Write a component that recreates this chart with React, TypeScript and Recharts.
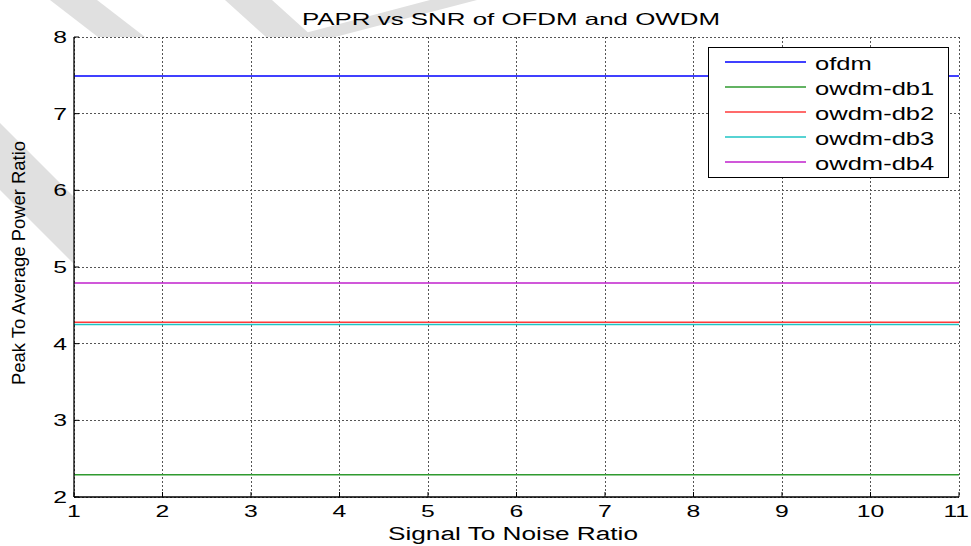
import React from 'react';
import { LineChart, Line, XAxis, YAxis, CartesianGrid, Legend } from 'recharts';

// ---- data ----
const snr = [1, 2, 3, 4, 5, 6, 7, 8, 9, 10, 11];
const ofdm = [7.49, 7.49, 7.49, 7.49, 7.49, 7.49, 7.49, 7.49, 7.49, 7.49, 7.49];
const owdmDb1 = [2.29, 2.29, 2.29, 2.29, 2.29, 2.29, 2.29, 2.29, 2.29, 2.29, 2.29];
const owdmDb2 = [4.28, 4.28, 4.28, 4.28, 4.28, 4.28, 4.28, 4.28, 4.28, 4.28, 4.28];
const owdmDb3 = [4.25, 4.25, 4.25, 4.25, 4.25, 4.25, 4.25, 4.25, 4.25, 4.25, 4.25];
const owdmDb4 = [4.79, 4.79, 4.79, 4.79, 4.79, 4.79, 4.79, 4.79, 4.79, 4.79, 4.79];
const seriesNames = ['ofdm', 'owdm-db1', 'owdm-db2', 'owdm-db3', 'owdm-db4'];
const xTicks = [1, 2, 3, 4, 5, 6, 7, 8, 9, 10, 11];
const yTicks = [2, 3, 4, 5, 6, 7, 8];
const titleText = 'PAPR vs SNR of OFDM and OWDM';
const xLabelText = 'Signal To Noise Ratio';
const yLabelText = 'Peak To Average Power Ratio';

// ---- styles ----
const seriesColors = ['#0000ff', '#2f9a2f', '#ff3a3a', '#1fc4c4', '#c020cc'];
const FONT = "'Liberation Sans', Arial, sans-serif";
const SX = 1.5;
const TICK_FS = 16.5;

const seriesValues = [ofdm, owdmDb1, owdmDb2, owdmDb3, owdmDb4];
const data = snr.map((s, i) => {
  const row: any = { snr: s };
  seriesNames.forEach((n, k) => {
    row[n] = seriesValues[k][i];
  });
  return row;
});

const XTick = (props: any) => {
  const { x, y, payload } = props;
  const w = String(payload.value).length * 0.556 * TICK_FS * SX;
  const cx = Math.min(x, 970 - w / 2);
  return (
    <text
      transform={`translate(${cx},${y + 12}) scale(${SX},1)`}
      textAnchor="middle"
      fontFamily={FONT}
      fontSize={TICK_FS}
      fill="#000"
    >
      {payload.value}
    </text>
  );
};

const YTick = (props: any) => {
  const { x, y, payload } = props;
  return (
    <text
      transform={`translate(${x},${y + 6}) scale(${SX},1)`}
      textAnchor="end"
      fontFamily={FONT}
      fontSize={TICK_FS}
      fill="#000"
    >
      {payload.value}
    </text>
  );
};

const LegendBox = (props: any) => {
  const payload = props.payload || [];
  return (
    <svg width={241} height={131} style={{ display: 'block' }}>
      <rect x={0.5} y={0.5} width={240} height={130} fill="#fff" stroke="#000" strokeWidth={1} />
      {payload.map((p: any, i: number) => {
        const cy = 15 + i * 25;
        return (
          <g key={p.value}>
            <line x1={17} x2={98} y1={cy} y2={cy} stroke={p.color} strokeWidth={1.6} />
            <text
              transform={`translate(107,${cy + 8}) scale(1.42,1)`}
              fontFamily={FONT}
              fontSize={18}
              fill="#000"
            >
              {p.value}
            </text>
          </g>
        );
      })}
    </svg>
  );
};

export default function App() {
  return (
    <div style={{ position: 'fixed', left: 0, top: 0, width: 971, height: 546, background: '#fff' }}>
      <svg width={971} height={546} style={{ position: 'absolute', left: 0, top: 0, zIndex: 0 }}>
        <g fill="#e0e0e0">
          <polygon points="50,0 97,0 145,37 98,37" />
          <polygon points="225,0 272,0 313,37 266,37" />
          <polygon points="430,0 477,0 335,37 290,37" />
          <polygon points="0,123 73,196 73,263 0,190" />
        </g>
      </svg>
      <div style={{ position: 'absolute', left: 0, top: 0, zIndex: 1 }}>
        <LineChart width={971} height={546} data={data} margin={{ top: 37, right: 12, bottom: 19, left: 34 }}>
          <CartesianGrid
            fill="#fff"
            fillOpacity={1}
            stroke="#555"
            strokeDasharray="2 2"
            shapeRendering="crispEdges"
            verticalValues={xTicks}
            horizontalValues={yTicks}
          />
          <XAxis
            dataKey="snr"
            type="number"
            domain={[1, 11]}
            ticks={xTicks}
            interval={0}
            height={30}
            tickSize={-5}
            tickMargin={13}
            axisLine={{ stroke: '#000', strokeWidth: 1.3 }}
            tickLine={{ stroke: '#000' }}
            tick={<XTick />}
          />
          <XAxis
            xAxisId="top"
            orientation="top"
            dataKey="snr"
            type="number"
            domain={[1, 11]}
            ticks={xTicks}
            interval={0}
            height={0}
            tickSize={-5}
            axisLine={{ stroke: '#000', strokeWidth: 1.3 }}
            tickLine={{ stroke: '#000' }}
            tick={false}
          />
          <YAxis
            type="number"
            domain={[2, 8]}
            ticks={yTicks}
            interval={0}
            width={40}
            tickSize={-5}
            tickMargin={12}
            axisLine={{ stroke: '#000', strokeWidth: 1.3 }}
            tickLine={{ stroke: '#000' }}
            tick={<YTick />}
          />
          <YAxis
            yAxisId="right"
            orientation="right"
            type="number"
            domain={[2, 8]}
            ticks={yTicks}
            interval={0}
            width={0}
            tickSize={-5}
            axisLine={{ stroke: '#000', strokeWidth: 1.3 }}
            tickLine={{ stroke: '#000' }}
            tick={false}
          />
          {seriesNames.map((n, k) => (
            <Line
              key={n}
              dataKey={n}
              name={n}
              stroke={seriesColors[k]}
              strokeWidth={1.5}
              dot={false}
              activeDot={false}
              isAnimationActive={false}
            />
          ))}
          <Legend
            layout="vertical"
            align="center"
            verticalAlign="middle"
            wrapperStyle={{ position: 'absolute', left: 708, top: 47, width: 241, height: 131 }}
            content={<LegendBox />}
          />
        </LineChart>
      </div>
      <svg width={971} height={546} style={{ position: 'absolute', left: 0, top: 0, zIndex: 2, pointerEvents: 'none' }}>
        <text x={511} y={25} textAnchor="middle" fontFamily={FONT} fontSize={16.5} textLength={418} lengthAdjust="spacingAndGlyphs" fill="#000">
          {titleText}
        </text>
        <text x={513} y={540} textAnchor="middle" fontFamily={FONT} fontSize={18} textLength={250} lengthAdjust="spacingAndGlyphs" fill="#000">
          {xLabelText}
        </text>
        <text
          transform="translate(25,263) rotate(-90)"
          textAnchor="middle"
          fontFamily={FONT}
          fontSize={18}
          textLength={244}
          lengthAdjust="spacingAndGlyphs"
          fill="#000"
        >
          {yLabelText}
        </text>
      </svg>
    </div>
  );
}
